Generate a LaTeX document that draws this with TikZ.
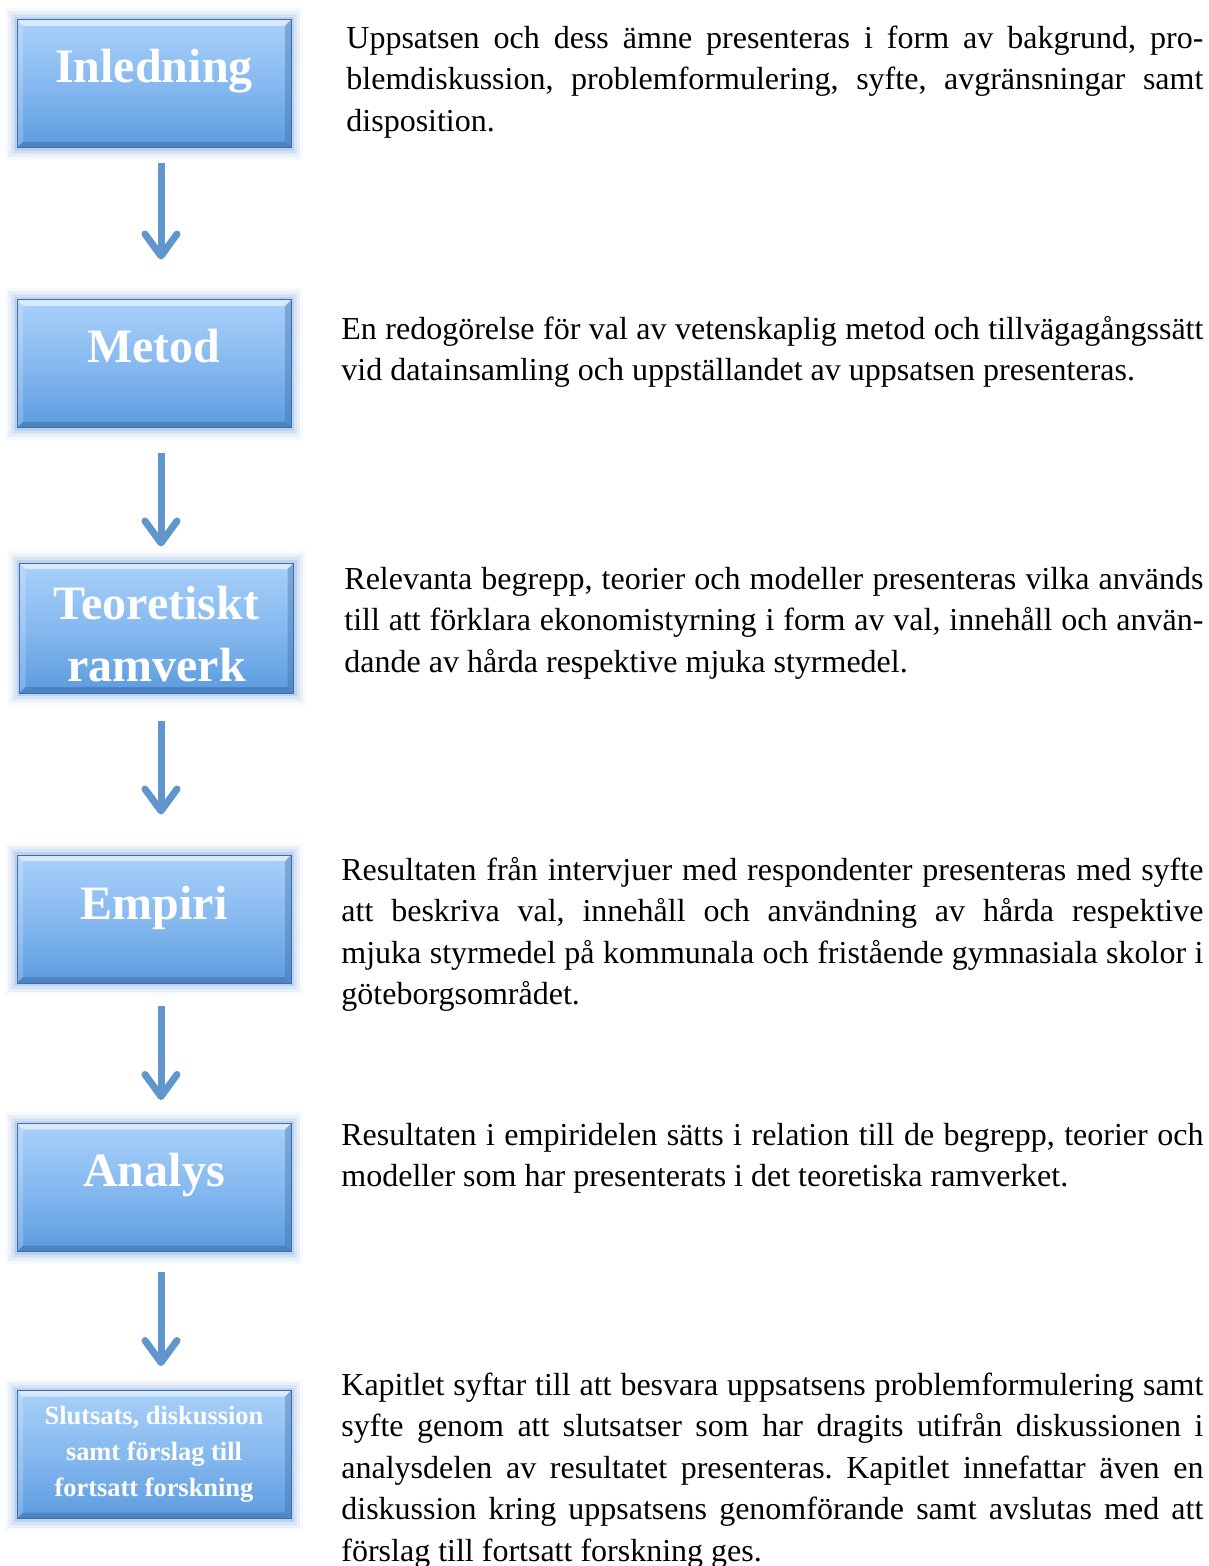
\documentclass[tikz,border=0pt]{standalone}
\usepackage{fontspec}
\setmainfont{Liberation Serif}
\usetikzlibrary{arrows.meta}
\definecolor{stagetop}{HTML}{A9D0F9}
\definecolor{stagemid}{HTML}{86B9EF}
\definecolor{stagebot}{HTML}{5C9BDF}
\definecolor{stageedge}{HTML}{3F6FA8}
\definecolor{stageglow}{HTML}{6F9EDB}
\definecolor{flowblue}{HTML}{6096CB}
\hyphenpenalty=10000
\tolerance=9999
\frenchspacing
\tikzset{
	stage/.style={minimum width=137pt, minimum height=64pt, inner sep=0pt,
		top color=stagetop, bottom color=stagebot, middle color=stagemid,
		draw=stageedge, line width=0.5pt,
		preaction={draw=stageglow, line width=12pt, opacity=.06, rounded corners=6pt},
		preaction={draw=stageglow, line width=9pt, opacity=.1, rounded corners=4pt},
		preaction={draw=stageglow, line width=6pt, opacity=.15, rounded corners=3pt},
		preaction={draw=stageglow, line width=3pt, opacity=.25},
		path picture={
			\fill[white, opacity=.55] (path picture bounding box.north west) -- (path picture bounding box.north east)
				-- ([shift={(-3pt,-3pt)}]path picture bounding box.north east) -- ([shift={(3pt,-3pt)}]path picture bounding box.north west) -- cycle;
			\fill[white, opacity=.2] (path picture bounding box.north west) -- (path picture bounding box.south west)
				-- ([shift={(3pt,3pt)}]path picture bounding box.south west) -- ([shift={(3pt,-3pt)}]path picture bounding box.north west) -- cycle;
			\fill[stageedge, opacity=.55] (path picture bounding box.south west) -- (path picture bounding box.south east)
				-- ([shift={(-3pt,3pt)}]path picture bounding box.south east) -- ([shift={(3pt,3pt)}]path picture bounding box.south west) -- cycle;
			\fill[stageedge, opacity=.4] (path picture bounding box.north east) -- (path picture bounding box.south east)
				-- ([shift={(-3pt,3pt)}]path picture bounding box.south east) -- ([shift={(-3pt,-3pt)}]path picture bounding box.north east) -- cycle;
		}},
	stagetext/.style={anchor=north, inner sep=0pt, align=center, text=white,
		font=\bfseries\fontsize{24}{31}\selectfont},
	desc/.style={anchor=north west, inner sep=0pt, text width=431pt, align=justify,
		font=\fontsize{16}{20.75}\selectfont},
	flow/.style={draw=flowblue, line width=3.5pt, -{Straight Barb[length=11pt, width=16pt, round]}}
}
\begin{document}
\begin{tikzpicture}[x=0.5pt, y=-0.5pt]
	\useasboundingbox (0,0) rectangle (1208,1566);
	\node[stage] (inl) at (154,84) {};
	\node[stage] (met) at (154,364) {};
	\node[stage, minimum height=65pt] (teo) at (156.5,628) {};
	\node[stage] (emp) at (154,919) {};
	\node[stage] (ana) at (154,1187.5) {};
	\node[stage] (slu) at (154,1454.5) {};

	\node[stagetext] (inl-t) at ([yshift=-9.8pt]inl.north) {\strut Inledning};
	\node[stagetext] (met-t) at ([yshift=-9.8pt]met.north) {\strut Metod};
	\node[stagetext] (teo-t) at ([yshift=-6.8pt]teo.north) {\strut Teoretiskt\\ramverk};
	\node[stagetext] (emp-t) at ([yshift=-10.8pt]emp.north) {\strut Empiri};
	\node[stagetext] (ana-t) at ([yshift=-9.8pt]ana.north) {\strut Analys};
	\node[stagetext, font=\bfseries\fontsize{13.2}{18}\selectfont] (slu-t) at ([yshift=-4.4pt]slu.north)
		{\strut Slutsats, diskussion\\samt förslag till\\fortsatt forskning};

	\coordinate (ax) at (161,0);
	\foreach \a/\b/\s/\e in {inl/met/7.5/20, met/teo/12.5/8, teo/emp/13.5/20, emp/ana/11/11.5, ana/slu/10/12}
		\draw[flow, shorten <=\s pt, shorten >=\e pt] (\a.south -| ax) -- (\b.north -| ax);

	\node[desc, text width=428.5pt] (inl-d) at (346,19) {\strut Uppsatsen och dess ämne presenteras i form av bakgrund, pro-\linebreak
		blemdiskussion, problemformulering, syfte, avgränsningar samt\linebreak disposition.};
	\node[desc] (met-d) at (341,310) {\strut En redogörelse för val av vetenskaplig metod och tillvägagångssätt\linebreak
		vid datainsamling och uppställandet av uppsatsen presenteras.};
	\node[desc, text width=429.5pt] (teo-d) at (344,560) {\strut Relevanta begrepp, teorier och modeller presenteras vilka används\linebreak
		till att förklara ekonomistyrning i form av val, innehåll och använ-\linebreak
		dande av hårda respektive mjuka styrmedel.};
	\node[desc] (emp-d) at (341,851) {\strut Resultaten från intervjuer med respondenter presenteras med syfte\linebreak
		att beskriva val, innehåll och användning av hårda respektive\linebreak
		mjuka styrmedel på kommunala och fristående gymnasiala skolor i\linebreak
		göteborgsområdet.};
	\node[desc] (ana-d) at (341,1116) {\strut Resultaten i empiridelen sätts i relation till de begrepp, teorier och\linebreak
		modeller som har presenterats i det teoretiska ramverket.};
	\node[desc] (slu-d) at (341,1366) {\strut Kapitlet syftar till att besvara uppsatsens problemformulering samt\linebreak
		syfte genom att slutsatser som har dragits utifrån diskussionen i\linebreak
		analysdelen av resultatet presenteras. Kapitlet innefattar även en\linebreak
		diskussion kring uppsatsens genomförande samt avslutas med att\linebreak
		förslag till fortsatt forskning ges.};
\end{tikzpicture}
\end{document}
